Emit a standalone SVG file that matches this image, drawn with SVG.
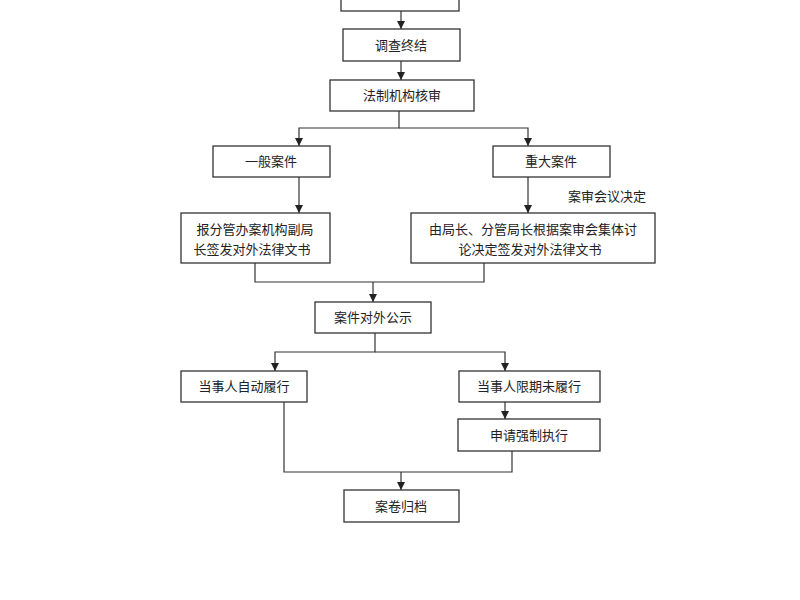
<svg xmlns="http://www.w3.org/2000/svg" width="800" height="600" viewBox="0 0 800 600">
<style>
.b{fill:#fff;stroke:#333;stroke-width:1.3}
.t{font-family:"Noto Sans CJK SC",sans-serif;font-size:13px;fill:#222;text-anchor:middle}
.c{fill:none;stroke:#333;stroke-width:1.2}
</style>
<defs><marker id="a" viewBox="0 0 10 10" refX="10" refY="5" markerWidth="7" markerHeight="7" orient="auto"><path d="M0,0L10,5L0,10z" fill="#222"/></marker></defs>
<rect width="800" height="600" fill="#fff"/>
<g id="connectors" class="c">
<path d="M401,11V29" marker-end="url(#a)"/>
<path d="M401,61V80" marker-end="url(#a)"/>
<path d="M399,111V128H299V146" marker-end="url(#a)"/>
<path d="M399,128H528V146" marker-end="url(#a)"/>
<path d="M299,177V213" marker-end="url(#a)"/>
<path d="M528,177V213" marker-end="url(#a)"/>
<path d="M255,263V282H484V263"/>
<path d="M373,282V302" marker-end="url(#a)"/>
<path d="M375,333V352H275V371" marker-end="url(#a)"/>
<path d="M375,352H505V371" marker-end="url(#a)"/>
<path d="M505,402V419" marker-end="url(#a)"/>
<path d="M284,402V472H512V451"/>
<path d="M401,472V490" marker-end="url(#a)"/>
</g>
<g id="n0"><rect class="b" x="341" y="-10" width="118" height="21"/></g>
<g id="n1"><rect class="b" x="343" y="29" width="117" height="32"/><text class="t" x="401" y="50">调查终结</text></g>
<g id="n2"><rect class="b" x="330" y="80" width="144" height="31"/><text class="t" x="402" y="100">法制机构核审</text></g>
<g id="n3"><rect class="b" x="213" y="146" width="117" height="31"/><text class="t" x="271" y="166">一般案件</text></g>
<g id="n4"><rect class="b" x="493" y="146" width="117" height="31"/><text class="t" x="551" y="166">重大案件</text></g>
<text class="t" x="607" y="201">案审会议决定</text>
<g id="n5"><rect class="b" x="181" y="213" width="149" height="50"/><text class="t" x="255" y="234">报分管办案机构副局</text><text class="t" x="252" y="254">长签发对外法律文书</text></g>
<g id="n6"><rect class="b" x="411" y="213" width="244" height="50"/><text class="t" x="533" y="234">由局长、分管局长根据案审会集体讨</text><text class="t" x="530" y="254">论决定签发对外法律文书</text></g>
<g id="n7"><rect class="b" x="315" y="302" width="116" height="31"/><text class="t" x="373" y="322">案件对外公示</text></g>
<g id="n8"><rect class="b" x="181" y="371" width="126" height="31"/><text class="t" x="244" y="391">当事人自动履行</text></g>
<g id="n9"><rect class="b" x="459" y="371" width="141" height="31"/><text class="t" x="529" y="391">当事人限期未履行</text></g>
<g id="n10"><rect class="b" x="458" y="419" width="142" height="32"/><text class="t" x="529" y="440">申请强制执行</text></g>
<g id="n11"><rect class="b" x="344" y="490" width="115" height="32"/><text class="t" x="401" y="511">案卷归档</text></g>
</svg>
